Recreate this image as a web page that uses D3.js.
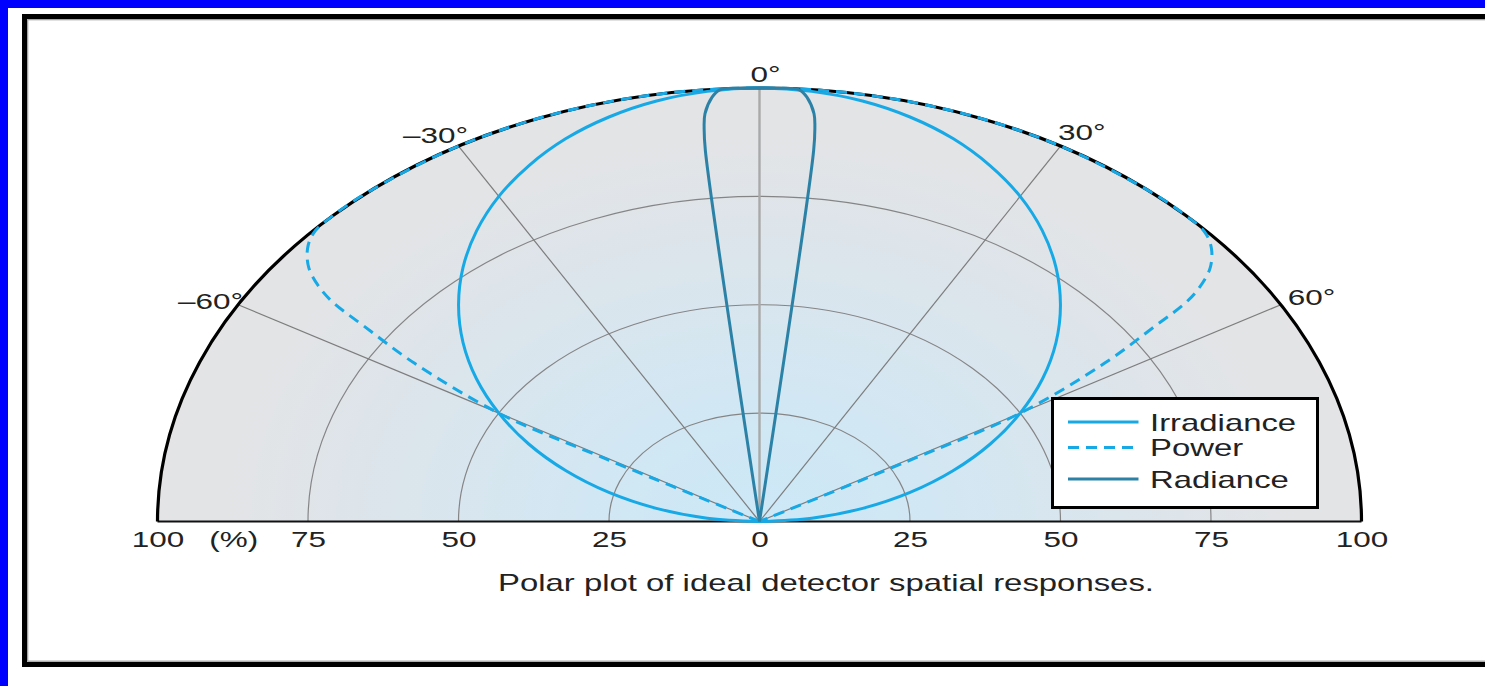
<!DOCTYPE html>
<html>
<head>
<meta charset="utf-8">
<script src="https://cdn.jsdelivr.net/npm/d3@7"></script>
<style>
  html, body { margin: 0; padding: 0; background: #fff; }
  svg { display: block; }
  text { font-family: "Liberation Sans", Arial, Helvetica, sans-serif; fill: #222; }
</style>
</head>
<body>
<svg id="chart" width="1485" height="686"></svg>
<script>
// Angles in degrees from the detector normal, responses in percent.
const irradianceAngles = [-90, -85, -80, -75, -70, -65, -60, -55, -50, -45, -40, -35, -30, -25, -20, -15, -10, -5,
                          0, 5, 10, 15, 20, 25, 30, 35, 40, 45, 50, 55, 60, 65, 70, 75, 80, 85, 90];
const irradiance = [0, 8.7, 17.4, 25.9, 34.2, 42.3, 50, 57.4, 64.3, 70.7, 76.6, 81.9, 86.6, 90.6, 94, 96.6, 98.5, 99.6,
                    100, 99.6, 98.5, 96.6, 94, 90.6, 86.6, 81.9, 76.6, 70.7, 64.3, 57.4, 50, 42.3, 34.2, 25.9, 17.4, 8.7, 0];

const powerAngles = [-61, -60.5, -60, -57.5, -55.5, -54.5, -53.5, -52, -50, -48, -45, -40, -30, -20, -10,
                     0, 10, 20, 30, 40, 45, 48, 50, 52, 53.5, 54.5, 55.5, 57.5, 60, 60.5, 61];
const power = [0, 30, 50, 68, 80, 87, 91, 95, 98, 99.6, 100, 100, 100, 100, 100,
               100, 100, 100, 100, 100, 100, 99.6, 98, 95, 91, 87, 80, 68, 50, 30, 0];

const radianceAngles = [-6.2, -6, -5.8, -5.5, -4.6, -3.8, -2, 0, 2, 3.8, 4.6, 5.5, 5.8, 6, 6.2];
const radiance = [0, 86, 91, 94.5, 98.2, 99.8, 100, 100, 100, 99.8, 98.2, 94.5, 91, 86, 0];

const ringValues = [25, 50, 75];
const spokeAngles = [-60, -30, 0, 30, 60];
const angleLabels = ["\u201360\u00b0", "\u201330\u00b0", "0\u00b0", "30\u00b0", "60\u00b0"];
const axisTicks = [-100, -75, -50, -25, 0, 25, 50, 75, 100];
const legendNames = ["Irradiance", "Power", "Radiance"];
const captionText = "Polar plot of ideal detector spatial responses.";

const svg = d3.select("#chart");
const TX = 1.43; // horizontal stretch applied to the lettering

// Frame
svg.append("path").attr("d", "M0,0H1485V8H8V686H0Z").attr("fill", "#0000ff");
svg.append("rect").attr("x", 24.5).attr("y", 16.5).attr("width", 1500).attr("height", 648)
  .attr("fill", "none").attr("stroke", "#000").attr("stroke-width", 5);
svg.append("rect").attr("x", 27.7).attr("y", 19.7).attr("width", 1500).attr("height", 641.5)
  .attr("fill", "none").attr("stroke", "#9a9a9a").attr("stroke-width", 1.2);

// Scales: horizontal and vertical percent axes of the half-plane plot
const x = d3.scaleLinear().domain([-100, 100]).range([157.5, 1361.5]);
const y = d3.scaleLinear().domain([0, 100]).range([521.5, 88]);
const rad = d => d * Math.PI / 180;
const px = (a, r) => x(r * Math.sin(rad(a)));
const py = (a, r) => y(r * Math.cos(rad(a)));
const rx = r => x(r) - x(0);
const ry = r => y(0) - y(r);
const halfDisc = r => `M${x(-r)},${y(0)}A${rx(r)},${ry(r)} 0 0 1 ${x(r)},${y(0)}`;

// Background shading
const defs = svg.append("defs");
const grad = defs.append("radialGradient").attr("id", "bg")
  .attr("gradientUnits", "userSpaceOnUse")
  .attr("cx", x(0)).attr("cy", y(0)).attr("r", rx(100))
  .attr("gradientTransform", `translate(0,${y(0)}) scale(1,${ry(100) / rx(100)}) translate(0,${-y(0)})`);
[[0, "#cce8f7"], [0.3, "#d2e7f3"], [0.6, "#dbe5ec"], [0.85, "#e2e4e7"], [1, "#e4e4e6"]]
  .forEach(([o, c]) => grad.append("stop").attr("offset", o).attr("stop-color", c));

svg.append("path").attr("d", halfDisc(100) + "Z").attr("fill", "url(#bg)");

// Grid rings
svg.selectAll("path.ring").data(ringValues).join("path").attr("class", "ring")
  .attr("d", d => halfDisc(d)).attr("fill", "none")
  .attr("stroke", "#858585").attr("stroke-width", 1.2);

// Spokes
svg.selectAll("line.spoke").data(spokeAngles).join("line").attr("class", "spoke")
  .attr("x1", x(0)).attr("y1", y(0))
  .attr("x2", d => px(d, 100)).attr("y2", d => py(d, 100))
  .attr("stroke", d => d === 0 ? "#a9a9a9" : "#7d7d7d")
  .attr("stroke-width", d => d === 0 ? 2.4 : 1.2);

// Baseline and outer boundary
svg.append("line").attr("x1", x(-100)).attr("x2", x(100)).attr("y1", y(0)).attr("y2", y(0))
  .attr("stroke", "#111").attr("stroke-width", 2.2);
svg.append("path").attr("d", halfDisc(100)).attr("fill", "none")
  .attr("stroke", "#000").attr("stroke-width", 3.2);

// Response curves
const curve = (angles, values) => d3.line()
  .x((d, i) => px(angles[i], values[i]))
  .y((d, i) => py(angles[i], values[i]))
  .curve(d3.curveCatmullRom.alpha(0.5))(values);

const BLUE = "#16a9e6", TEAL = "#2c82a6";
svg.append("path").attr("d", curve(irradianceAngles, irradiance)).attr("fill", "none")
  .attr("stroke", BLUE).attr("stroke-width", 3);
svg.append("path").attr("d", curve(powerAngles, power)).attr("fill", "none")
  .attr("stroke", BLUE).attr("stroke-width", 3).attr("stroke-dasharray", "11,7");
svg.append("path").attr("d", curve(radianceAngles, radiance)).attr("fill", "none")
  .attr("stroke", TEAL).attr("stroke-width", 3);

// Angle labels
const labelOffsets = { "-60": [5, 4, "end"], "-30": [9.5, -3, "end"], "0": [-9, -6, "start"],
                       "30": [-2.5, -6, "start"], "60": [7, 0, "start"] };
spokeAngles.forEach((a, i) => {
  const [dx, dy, anchor] = labelOffsets[a];
  svg.append("text")
    .attr("transform", `translate(${px(a, 100) + dx},${py(a, 100) + dy}) scale(${TX},1)`)
    .attr("text-anchor", anchor).attr("font-size", 22).text(angleLabels[i]);
});

// Percent axis along the base
const axis = svg.append("g").attr("transform", `translate(0,${y(0)})`)
  .call(d3.axisBottom(x).tickValues(axisTicks).tickSize(0).tickPadding(10)
    .tickFormat(d => String(Math.abs(d))));
axis.select(".domain").remove();
axis.selectAll("text").attr("font-size", 22).attr("fill", "#222")
  .attr("font-family", "Liberation Sans, Arial, sans-serif")
  .attr("transform", `scale(${TX},1)`).attr("x", 0);
axis.selectAll(".tick text").each(function () {
  const t = d3.select(this);
  t.attr("transform", `scale(${TX},1)`);
});
svg.append("text").attr("transform", `translate(${(x(-100) + x(-75)) / 2 + 1},547) scale(${TX},1)`)
  .attr("text-anchor", "middle").attr("font-size", 22).text("(%)");

// Caption
svg.append("text").attr("transform", `translate(826,591) scale(${TX},1)`)
  .attr("text-anchor", "middle").attr("font-size", 23).text(captionText);

// Legend
const legend = svg.append("g").attr("transform", "translate(1052.5,398.5)");
legend.append("rect").attr("width", 265).attr("height", 109)
  .attr("fill", "#fff").attr("stroke", "#000").attr("stroke-width", 3);
const legendStyles = [
  { stroke: BLUE, dash: null }, { stroke: BLUE, dash: "11,7" }, { stroke: TEAL, dash: null }
];
legendNames.forEach((name, i) => {
  const rowY = [23.5, 49, 80.5][i];
  legend.append("line").attr("x1", 15.5).attr("x2", 86).attr("y1", rowY).attr("y2", rowY)
    .attr("stroke", legendStyles[i].stroke).attr("stroke-width", 3)
    .attr("stroke-dasharray", legendStyles[i].dash);
  legend.append("text").attr("transform", `translate(97.5,${rowY + 8.5}) scale(${TX},1)`)
    .attr("font-size", 23).text(name);
});
</script>
</body>
</html>
